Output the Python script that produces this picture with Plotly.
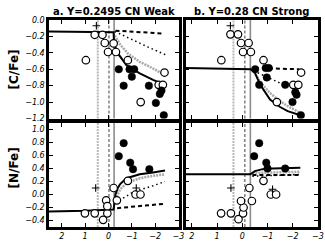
import plotly.graph_objects as go

# ---------------- data ----------------
# Panel a (Y=0.2495 CN Weak), [C/Fe]
a_c_open_x = [0.97, 0.59, 0.26, 0.16, 0.02, -0.22, -0.32, -0.83, -2.40, -1.38, -2.15, -2.33]
a_c_open_y = [-0.49, -0.18, -0.18, -0.28, -0.39, -0.285, -0.39, -0.49, -0.64, -1.00, -0.79, -0.79]
a_c_fill_x = [-0.44, -0.90, -1.10, -1.00, -0.65, -1.73, -2.20, -2.27, -2.03, -2.37]
a_c_fill_y = [-0.60, -0.60, -0.60, -0.69, -0.80, -0.80, -0.90, -0.86, -1.01, -1.16]
a_c_plus_x = [0.52]
a_c_plus_y = [-0.07]
a_c_solid_x = [2.55, 1.0, -0.22, -0.23, -0.28, -0.41, -0.77, -1.34, -1.91, -2.42]
a_c_solid_y = [-0.14, -0.145, -0.15, -0.24, -0.32, -0.41, -0.55, -0.65, -0.73, -0.79]
a_c_dash_x = [-0.30, -2.38]
a_c_dash_y = [-0.13, -0.165]
a_c_dot_x = [-0.27, -1.0, -1.7, -2.5]
a_c_dot_y = [-0.14, -0.24, -0.33, -0.43]
a_c_gdot_x = [-0.27, -0.50, -0.84, -1.34, -1.77, -2.42]
a_c_gdot_y = [-0.19, -0.30, -0.41, -0.51, -0.57, -0.67]

# Panel a, [N/Fe]
a_n_open_x = [1.01, 0.59, 0.23, 0.05, 0.10, 0.05, -0.22, -0.36, -0.83, -1.16, -1.37]
a_n_open_y = [-0.29, -0.29, -0.39, -0.29, -0.09, -0.18, 0.10, -0.09, 0.21, 0.0, 0.0]
a_n_fill_x = [-0.65, -0.44, -0.93, -1.05, -1.75]
a_n_fill_y = [0.79, 0.59, 0.49, 0.39, 0.39]
a_n_plus_x = [0.55, -1.19]
a_n_plus_y = [0.10, 0.10]
a_n_solid_x = [2.55, 1.0, -0.22, -0.25, -0.30, -0.40, -0.50, -0.77, -1.34, -1.91, -2.42]
a_n_solid_y = [-0.26, -0.25, -0.23, -0.10, 0.0, 0.10, 0.16, 0.25, 0.31, 0.34, 0.37]
a_n_dash_x = [-0.37, -2.34]
a_n_dash_y = [-0.21, -0.145]
a_n_dot_x = [-0.30, -1.06, -1.91, -2.42]
a_n_dot_y = [-0.13, 0.04, 0.135, 0.20]
a_n_gdot_x = [-0.30, -0.50, -0.80, -1.34, -1.77, -2.42]
a_n_gdot_y = [-0.08, 0.08, 0.18, 0.25, 0.28, 0.31]

# Panel b (Y=0.28 CN Strong), [C/Fe]
b_c_open_x = [0.47, 0.17, 0.05, -0.25, -0.03, -0.34, 0.83, -0.84, -2.33, -2.02, -2.22, -1.37]
b_c_open_y = [-0.175, -0.175, -0.28, -0.28, -0.39, -0.39, -0.49, -0.49, -0.64, -0.79, -0.79, -1.00]
b_c_fill_x = [-0.51, -0.93, -1.05, -0.97, -0.67, -1.70, -2.10, -2.15, -1.99, -2.32]
b_c_fill_y = [-0.60, -0.585, -0.585, -0.70, -0.79, -0.79, -0.88, -0.91, -1.00, -1.16]
b_c_plus_x = [0.47]
b_c_plus_y = [-0.07]
b_c_solid_x = [2.25, 1.0, -0.32, -0.48, -0.60, -0.71, -1.10, -1.50, -1.80, -2.30]
b_c_solid_y = [-0.585, -0.595, -0.60, -0.63, -0.72, -0.79, -0.97, -1.06, -1.11, -1.16]
b_c_dash_x = [-0.50, -2.25]
b_c_dash_y = [-0.585, -0.60]
b_c_dot_x = [-0.45, -1.0, -1.65, -2.05]
b_c_dot_y = [-0.62, -0.70, -0.79, -0.80]
b_c_gdot_x = [-0.45, -0.80, -1.10, -1.37, -1.80, -2.30]
b_c_gdot_y = [-0.63, -0.79, -0.89, -0.96, -1.05, -1.13]

# Panel b, [N/Fe]
b_n_open_x = [0.84, 0.45, 0.15, -0.03, -0.05, 0.05, -0.38, -0.28, -0.84, -1.13, -1.34]
b_n_open_y = [-0.29, -0.29, -0.38, -0.29, -0.20, -0.10, -0.10, 0.10, 0.21, 0.0, 0.0]
b_n_fill_x = [-0.67, -0.47, -0.95, -1.00, -1.70]
b_n_fill_y = [0.79, 0.59, 0.49, 0.40, 0.40]
b_n_plus_x = [0.45, -1.20]
b_n_plus_y = [0.10, 0.08]
b_n_solid_x = [2.25, -0.32, -0.50, -0.80, -1.20, -2.30]
b_n_solid_y = [0.31, 0.31, 0.36, 0.39, 0.40, 0.41]
b_n_dash_x = [-0.40, -2.30]
b_n_dash_y = [0.30, 0.30]
b_n_dot_x = [-0.40, -2.30]
b_n_dot_y = [0.28, 0.31]
b_n_gdot_x = [-0.40, -2.30]
b_n_gdot_y = [0.33, 0.35]

# vertical reference lines (dotted, dashed, solid) per panel
a_vlines = [0.46, -0.02, -0.24]
b_vlines = [0.35, -0.10, -0.32]

titles = ["a. Y=0.2495 CN Weak", "b. Y=0.28 CN Strong"]
ylabels = ["[C/Fe]", "[N/Fe]"]
xticks = [2, 1, 0, -1, -2, -3]
c_ticks = [0.0, -0.2, -0.4, -0.6, -0.8, -1.0, -1.2]
n_ticks = [1.0, 0.8, 0.6, 0.4, 0.2, 0.0, -0.2, -0.4]

# ---------------- figure ----------------
W, H = 325, 245
fig = go.Figure()

def px2x(p):
    return p / W

def px2y(p):
    return 1 - p / H

panels = [
    ("x", "y", (a_c_open_x, a_c_open_y, a_c_fill_x, a_c_fill_y, a_c_plus_x, a_c_plus_y,
                a_c_solid_x, a_c_solid_y, a_c_dash_x, a_c_dash_y, a_c_dot_x, a_c_dot_y,
                a_c_gdot_x, a_c_gdot_y), a_vlines),
    ("x2", "y2", (b_c_open_x, b_c_open_y, b_c_fill_x, b_c_fill_y, b_c_plus_x, b_c_plus_y,
                  b_c_solid_x, b_c_solid_y, b_c_dash_x, b_c_dash_y, b_c_dot_x, b_c_dot_y,
                  b_c_gdot_x, b_c_gdot_y), b_vlines),
    ("x3", "y3", (a_n_open_x, a_n_open_y, a_n_fill_x, a_n_fill_y, a_n_plus_x, a_n_plus_y,
                  a_n_solid_x, a_n_solid_y, a_n_dash_x, a_n_dash_y, a_n_dot_x, a_n_dot_y,
                  a_n_gdot_x, a_n_gdot_y), a_vlines),
    ("x4", "y4", (b_n_open_x, b_n_open_y, b_n_fill_x, b_n_fill_y, b_n_plus_x, b_n_plus_y,
                  b_n_solid_x, b_n_solid_y, b_n_dash_x, b_n_dash_y, b_n_dot_x, b_n_dot_y,
                  b_n_gdot_x, b_n_gdot_y), b_vlines),
]

shapes = []
for xa, ya, d, vl in panels:
    (ox, oy, fx, fy, plx, ply, sx, sy, dx, dy, tx, ty, gx, gy) = d
    styles = [dict(color="#b8b8b8", width=2, dash="2px,1px"),
              dict(color="#808080", width=1.5, dash="3px,2px"),
              dict(color="#8c8c8c", width=1.6, dash="solid")]
    for v, st in zip(vl, styles):
        shapes.append(dict(type="line", xref=xa, yref=ya + " domain", x0=v, x1=v,
                           y0=0, y1=1, line=st, layer="below"))
    fig.add_trace(go.Scatter(x=gx, y=gy, xaxis=xa, yaxis=ya, mode="lines",
                             line=dict(color="#a8a8a8", width=2.5, dash="2px,1px"),
                             showlegend=False))
    fig.add_trace(go.Scatter(x=tx, y=ty, xaxis=xa, yaxis=ya, mode="lines",
                             line=dict(color="black", width=1.5, dash="1.5px,3px"),
                             showlegend=False))
    fig.add_trace(go.Scatter(x=dx, y=dy, xaxis=xa, yaxis=ya, mode="lines",
                             line=dict(color="black", width=2, dash="4px,3px"),
                             showlegend=False))
    fig.add_trace(go.Scatter(x=sx, y=sy, xaxis=xa, yaxis=ya, mode="lines",
                             line=dict(color="black", width=2), showlegend=False))
    fig.add_trace(go.Scatter(x=ox, y=oy, xaxis=xa, yaxis=ya, mode="markers",
                             marker=dict(symbol="circle", size=7.5, color="white",
                                         line=dict(color="black", width=1.2)),
                             showlegend=False))
    fig.add_trace(go.Scatter(x=fx, y=fy, xaxis=xa, yaxis=ya, mode="markers",
                             marker=dict(symbol="circle", size=7.5, color="black",
                                         line=dict(color="black", width=0.5)),
                             showlegend=False))
    fig.add_trace(go.Scatter(x=plx, y=ply, xaxis=xa, yaxis=ya, mode="markers",
                             marker=dict(symbol="cross-thin", size=5.5,
                                         line=dict(color="black", width=1.1)),
                             showlegend=False))

tickfont = dict(family="DejaVu Sans", size=8, color="black", style="italic")
common = dict(showline=True, linewidth=2.5, linecolor="black", mirror="allticks",
              ticks="inside", ticklen=4, tickwidth=1.4, tickcolor="black",
              showgrid=False, zeroline=False, tickfont=tickfont, automargin=False)

xa_dom = [px2x(49), px2x(178.5)]
xb_dom = [px2x(185.5), px2x(318)]
yt_dom = [px2y(118.5), px2y(20)]
yb_dom = [px2y(227), px2y(123)]

fig.update_layout(
    template="none",
    width=W, height=H, margin=dict(l=0, r=0, t=0, b=0, pad=0),
    paper_bgcolor="white", plot_bgcolor="white",
    xaxis=dict(domain=xa_dom, range=[2.55, -3.0], anchor="y", tickvals=xticks,
               showticklabels=False, **common),
    yaxis=dict(domain=yt_dom, range=[-1.2, 0.0], anchor="x", tickvals=c_ticks,
               tickformat=".1f", **common),
    xaxis2=dict(domain=xb_dom, range=[2.25, -3.0], anchor="y2", tickvals=xticks,
                showticklabels=False, **common),
    yaxis2=dict(domain=yt_dom, range=[-1.2, 0.0], anchor="x2", tickvals=c_ticks,
                showticklabels=False, **common),
    xaxis3=dict(domain=xa_dom, range=[2.55, -3.0], anchor="y3", tickvals=xticks,
                **common),
    yaxis3=dict(domain=yb_dom, range=[-0.5, 1.1], anchor="x3", tickvals=n_ticks,
                tickformat=".1f", **common),
    xaxis4=dict(domain=xb_dom, range=[2.25, -3.0], anchor="y4", tickvals=xticks,
                **common),
    yaxis4=dict(domain=yb_dom, range=[-0.5, 1.1], anchor="x4", tickvals=n_ticks,
                showticklabels=False, **common),
    shapes=shapes,
)

ann = []
for t, dom in zip(titles, [xa_dom, xb_dom]):
    ann.append(dict(text="<b>" + t + "</b>", x=(dom[0] + dom[1]) / 2,
                    y=px2y(11.5), xref="paper", yref="paper", showarrow=False,
                    xanchor="center", yanchor="middle",
                    font=dict(family="DejaVu Sans", size=10, color="black")))
for lab, yc in zip(ylabels, [70, 168]):
    ann.append(dict(text="<b>" + lab + "</b>", x=px2x(13.5), y=px2y(yc),
                    xref="paper", yref="paper", showarrow=False, textangle=-90,
                    xanchor="center", yanchor="middle",
                    font=dict(family="DejaVu Sans", size=12, color="black")))
fig.update_layout(annotations=ann)

fig.write_html("out.html",
               config={"displayModeBar": False},
               post_script="document.body.style.margin='0px';"
                           "document.body.style.overflow='hidden';")
